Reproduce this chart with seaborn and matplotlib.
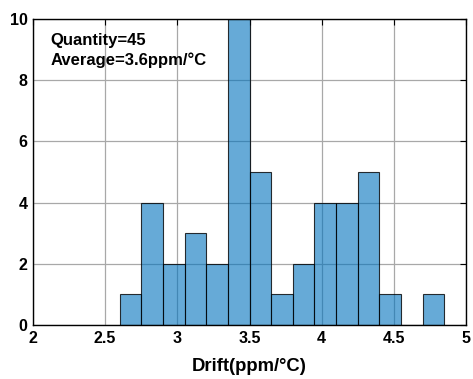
import matplotlib
matplotlib.use("Agg")
import matplotlib.pyplot as plt
import seaborn as sns
import numpy as np
import pandas as pd

# Histogram data (bin centers and counts)
bin_centers = [2.675, 2.825, 2.975, 3.125, 3.275, 3.425, 3.575, 3.725,
               3.875, 4.025, 4.175, 4.325, 4.475, 4.625, 4.775]
counts = [1, 4, 2, 3, 2, 10, 5, 1, 2, 4, 4, 5, 1, 0, 1]
x_ticks = [2, 2.5, 3, 3.5, 4, 4.5, 5]
x_tick_labels = ["2", "2.5", "3", "3.5", "4", "4.5", "5"]
y_ticks = [0, 2, 4, 6, 8, 10]
annotation = ["Quantity=45", "Average=3.6ppm/\u00b0C"]
x_label = "Drift(ppm/\u00b0C)"

sns.set_style("white")
plt.rcParams['font.family'] = ['Liberation Sans', 'DejaVu Sans']
plt.rcParams['font.weight'] = 'bold'
plt.rcParams['text.color'] = 'black'
plt.rcParams['axes.labelcolor'] = 'black'
plt.rcParams['xtick.color'] = 'black'
plt.rcParams['ytick.color'] = 'black'

df = pd.DataFrame({"drift": bin_centers, "count": counts})

fig = plt.figure(figsize=(4.73, 3.79), dpi=100)
ax = fig.add_axes([33/473, 1 - 325/379, (466-33)/473, (325-19)/379])

ax.grid(True, color="#a8a8a8", linewidth=0.9)
ax.set_axisbelow(True)

sns.histplot(data=df, x="drift", weights="count", binrange=(2.6, 4.85),
             binwidth=0.15, ax=ax, color=(0, 0.447, 0.741), alpha=0.6,
             edgecolor=(0, 0, 0, 0.8), linewidth=0.8)

ax.set_xlim(2, 5)
ax.set_ylim(0, 10)
ax.set_xticks(x_ticks)
ax.set_xticklabels(x_tick_labels)
ax.set_yticks(y_ticks)
ax.tick_params(direction="in", top=True, right=True, length=4, width=0.8,
               labelsize=11.5, pad=4, color="black", labelcolor="black")
for lbl in ax.get_xticklabels() + ax.get_yticklabels():
    lbl.set_fontweight("bold")
for s in ax.spines.values():
    s.set_color("black")
    s.set_linewidth(1.0)
    s.set_visible(True)

ax.set_xlabel(x_label, fontsize=13.3, fontweight="bold", labelpad=9, color="black")
ax.set_ylabel("")

ax.text(0.04, 0.93, annotation[0], transform=ax.transAxes, fontsize=12,
        fontweight="bold", va="center", ha="left", color="black")
ax.text(0.04, 0.865, annotation[1], transform=ax.transAxes, fontsize=12,
        fontweight="bold", va="center", ha="left", color="black")

fig.savefig("out.png", dpi=100)
